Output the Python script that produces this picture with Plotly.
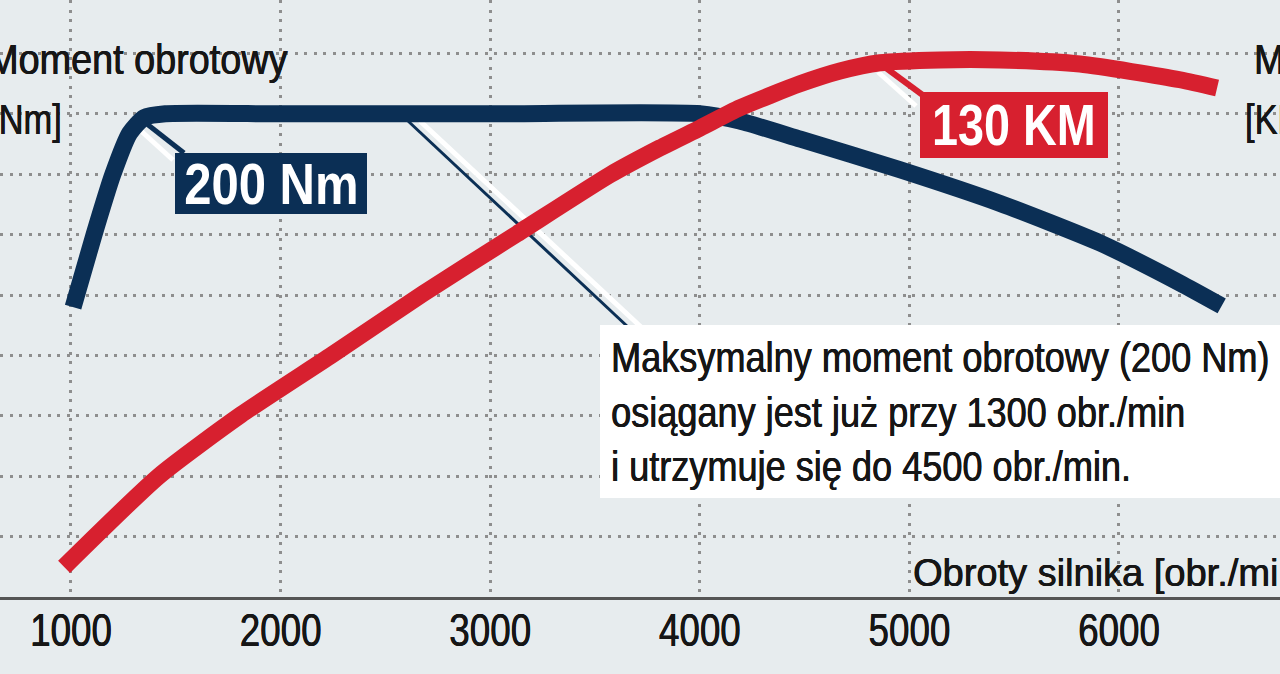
import json
import plotly.graph_objects as go

# ---------------- data ----------------
rpm_ticks = [1000, 2000, 3000, 4000, 5000, 6000]
tick_labels = ["1000", "2000", "3000", "4000", "5000", "6000"]

torque_rpm = [1010, 1110, 1200, 1280, 1350, 1450, 2000, 3000, 4000, 4190, 4480, 4950, 5430, 5910, 6290, 6490]
torque_nm = [120, 150, 175, 192, 198.5, 200, 200, 200, 200, 197, 189.5, 177, 163, 146.5, 130, 120.5]

power_rpm = [967, 1420, 1811, 2245, 2679, 3128, 3572, 3810, 4001, 4192, 4478, 4669, 4860, 5146, 5432, 5814, 6291, 6468]
power_km = [7.3, 29.3, 44.1, 58.6, 73.4, 87.9, 102.2, 108.7, 113.5, 118.4, 124.2, 127.3, 129.3, 130, 130, 129.0, 125.2, 123.2]

torque_grid = [25, 50, 75, 100, 125, 150, 175, 200, 225]

# ---------------- styling ----------------
W, H = 1280, 674
PLOT_BOTTOM = 597
X_RANGE = [661.3, 6768.2]
Y_RANGE = [0, 247.1]
Y2_RANGE = [0, 144.5]

BG = "#e7ecee"
NAVY = "#0b2f55"
RED = "#d7202f"
GRID = "#8e8e8e"
TXT = "#161616"
FONT = "Liberation Sans, Arial, sans-serif"
HEAVY = "0.45px 0 0 #161616, -0.2px 0 0 #161616"


def px2x(px):
    return X_RANGE[0] + px / W * (X_RANGE[1] - X_RANGE[0])


def py2y(py):
    return Y_RANGE[1] * (PLOT_BOTTOM - py) / PLOT_BOTTOM


def pxp(px):
    return px / W


def pyp(py):
    return (PLOT_BOTTOM - py) / PLOT_BOTTOM


fig = go.Figure()

fig.add_trace(go.Scatter(
    x=torque_rpm, y=torque_nm, mode="lines",
    line=dict(color=NAVY, width=17, shape="spline", smoothing=0.6),
    hoverinfo="skip", showlegend=False,
))
fig.add_trace(go.Scatter(
    x=power_rpm, y=power_km, mode="lines", yaxis="y2",
    line=dict(color=RED, width=17, shape="spline", smoothing=0.6),
    hoverinfo="skip", showlegend=False,
))

shapes = []


def seg(x0, y0, x1, y1, color, width):
    shapes.append(dict(type="line", xref="x", yref="y", layer="between",
                       x0=px2x(x0), y0=py2y(y0), x1=px2x(x1), y1=py2y(y1),
                       line=dict(color=color, width=width)))


def box(x0, y0, x1, y1, color):
    shapes.append(dict(type="rect", xref="x", yref="y", layer="between",
                       x0=px2x(x0), y0=py2y(y0), x1=px2x(x1), y1=py2y(y1),
                       line=dict(width=0), fillcolor=color))


# leader for "200 Nm"
seg(140, 130, 173, 160, "white", 5)
seg(147, 124, 184, 153, NAVY, 5)
box(175, 153, 367, 214, NAVY)

# leader for "130 KM"
seg(878, 72, 916, 106, "white", 5)
seg(886, 68, 924, 96, RED, 6)
box(920, 92, 1108, 158, RED)

# long leader to text box
seg(420, 121, 641, 327, "white", 5)
seg(408, 121, 628, 327, NAVY, 3)
box(600, 325, 1300, 498, "white")

fig.update_layout(shapes=shapes)

ann = []
squeeze = []


def label(text, px, py, size, color=TXT, xanchor="left", bold=False, align="left", f=1.0):
    font = dict(family=FONT, size=size, color=color)
    if not bold:
        font["shadow"] = HEAVY
    ann.append(dict(text=("<b>%s</b>" % text) if bold else text,
                    xref="paper", yref="paper", x=pxp(px), y=pyp(py),
                    xanchor=xanchor, yanchor="middle", showarrow=False, align=align,
                    font=font))
    squeeze.append(f)


label("Moment obrotowy", -15, 60, 42, f=0.9)
label("[Nm]", -13, 120, 42, f=0.82)
label("Moc", 1252, 60, 42, f=0.88)
label("[KM]", 1243, 120, 42, f=0.82)
label("Obroty silnika [obr./min]", 911, 573, 38, f=1.0)
label("200 Nm", 271, 184, 57, color="white", xanchor="center", bold=True, align="center", f=0.86)
label("130 KM", 1014, 125, 57, color="white", xanchor="center", bold=True, align="center", f=0.82)
label("Maksymalny moment obrotowy (200 Nm)<br>osiągany jest już przy 1300 obr./min<br>"
      "i utrzymuje się do 4500 obr./min.", 609, 412, 42, f=0.86)

TICK_SQUEEZE = 0.80

fig.update_layout(
    annotations=ann,
    width=W, height=H, autosize=False,
    margin=dict(l=0, r=0, t=0, b=H - PLOT_BOTTOM, pad=0),
    paper_bgcolor=BG, plot_bgcolor=BG,
    font=dict(family=FONT, color=TXT),
    xaxis=dict(range=X_RANGE, tickvals=rpm_ticks, ticktext=tick_labels,
               showgrid=True, gridcolor=GRID, gridwidth=3, griddash="3px,6.5px",
               showline=True, linecolor="#555555", linewidth=3, zeroline=False,
               ticks="", ticklabelstandoff=-9,
               tickfont=dict(family=FONT, size=46, color=TXT, shadow=HEAVY), fixedrange=True),
    yaxis=dict(range=Y_RANGE, tickvals=torque_grid, showticklabels=False,
               showgrid=True, gridcolor=GRID, gridwidth=3, griddash="3px,6.5px",
               zeroline=False, showline=False, ticks="", fixedrange=True),
    yaxis2=dict(range=Y2_RANGE, overlaying="y", side="right", visible=False,
                showgrid=False, zeroline=False, fixedrange=True),
    showlegend=False,
)

# narrow the glyphs (the reference uses a condensed typeface)
post = """
var gd = document.getElementById('{plot_id}');
var annF = %s;
var tickF = %s;
function fit(el, f) {
  var w = el.getComputedTextLength();
  if (w > 0) {
    el.setAttribute('lengthAdjust', 'spacingAndGlyphs');
    el.setAttribute('textLength', (w * f).toFixed(2));
  }
}
gd.querySelectorAll('g.annotation').forEach(function (g) {
  var i = parseInt(g.getAttribute('data-index'));
  var f = annF[i];
  if (!f || f === 1) return;
  var t = g.querySelector('text.annotation-text');
  if (!t) return;
  var lines = t.querySelectorAll('tspan.line');
  if (lines.length) { lines.forEach(function (l) { fit(l, f); }); } else { fit(t, f); }
});
gd.querySelectorAll('g.xtick text').forEach(function (t) { fit(t, tickF); });
""" % (json.dumps(squeeze), TICK_SQUEEZE)

fig.write_html("out.html", config=dict(displayModeBar=False), post_script=post)
